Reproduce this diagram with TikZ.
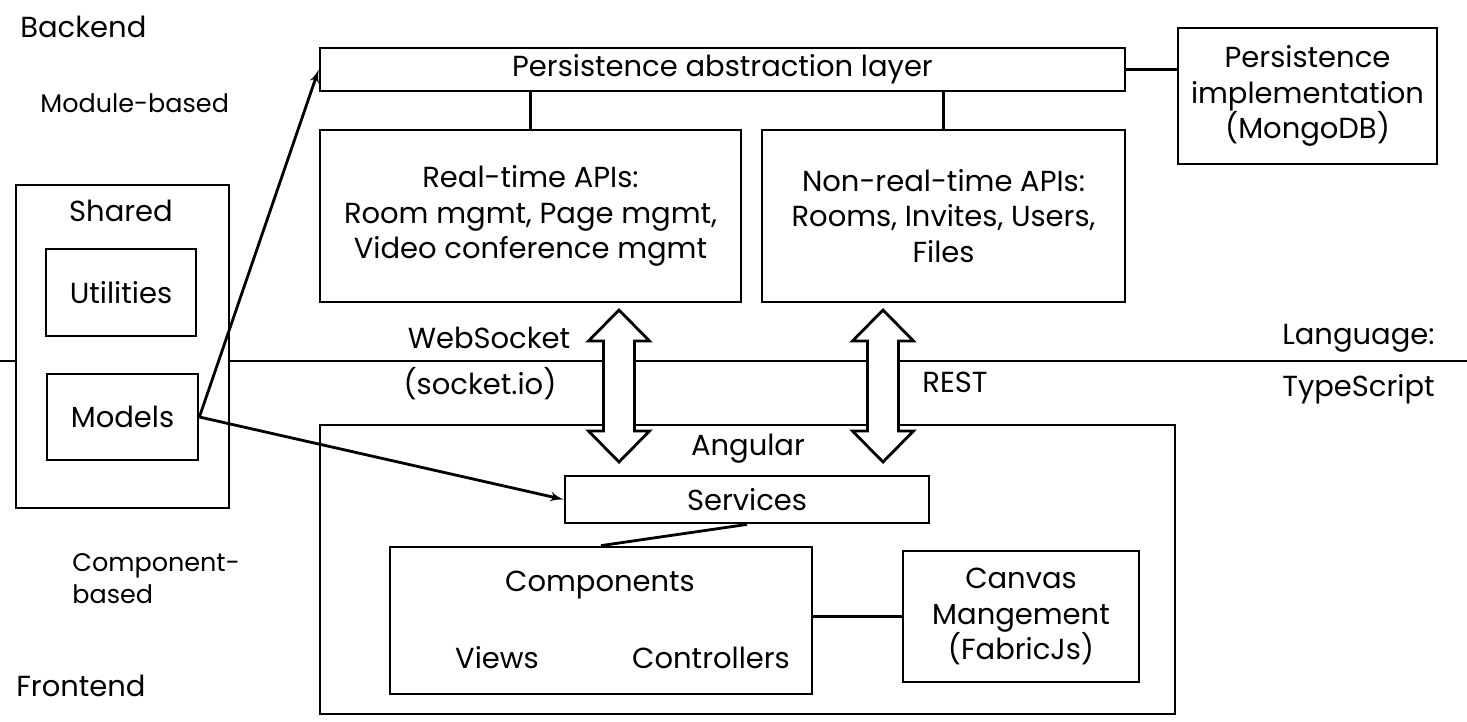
\documentclass[tikz,border=0pt]{standalone}
\usepackage{fontspec}
\setmainfont{Poppins}
\usepackage{tikz}
\usetikzlibrary{arrows}
\usetikzlibrary{positioning}
\newcommand{\mainsize}{\fontsize{16.5}{20.4}\selectfont}
\newcommand{\smallsize}{\fontsize{14.5}{18.5}\selectfont}

\begin{document}
\begin{tikzpicture}[x=0.02cm, y=-0.02cm,
    box/.style={draw, line width=1.6pt, fill=white, inner sep=0pt, align=center, font=\mainsize},
    lbl/.style={inner sep=0pt, align=center, font=\mainsize},
    small/.style={inner sep=0pt, align=left, font=\smallsize},
    link/.style={line width=1.6pt},
    flow/.style={line width=1.6pt, -latex'}]
\useasboundingbox (0, 0) rectangle (1467, 721);

\draw [link] (0, 361) -- (1467, 361);

\node [lbl, anchor=west] (backend) at (20, 27) {Backend};
\node [small, anchor=west] (modbased) at (40, 103) {Module-based};
\node [small, anchor=north west] (compbased) at (72, 553) {Component-\\based};
\node [lbl, anchor=west] (frontend) at (16, 686) {Frontend};

\node [box, minimum width=16.1cm, minimum height=0.86cm] (pal) at (722.5, 69.5) {Persistence abstraction layer};
\node [box, minimum width=5.18cm, minimum height=2.72cm] (pim) at (1307.5, 96) {Persistence\\implementation\\(MongoDB)};
\node [box, minimum width=8.42cm, minimum height=3.44cm] (rta) at (530.5, 216) {Real-time APIs:\\Room mgmt, Page mgmt,\\Video conference mgmt};
\node [box, minimum width=7.26cm, minimum height=3.44cm] (nrt) at (943.5, 216) {Non-real-time APIs:\\Rooms, Invites, Users,\\Files};

\draw [link] (rta.north) -- (rta.north |- pal.south);
\draw [link] (nrt.north) -- (nrt.north |- pal.south);
\draw [link] (pal.east) -- (pal.east -| pim.west);

\node [box, minimum width=4.26cm, minimum height=6.46cm] (shared) at (122.5, 346.5) {};
\node [lbl] (sharedlbl) at (121, 211) {Shared};
\node [box, minimum width=3.0cm, minimum height=1.74cm] (util) at (121, 292.5) {Utilities};
\node [box, minimum width=3.02cm, minimum height=1.72cm] (models) at (122.5, 417) {Models};

\node [box, minimum width=17.1cm, minimum height=5.78cm] (angular) at (747.5, 569.5) {};
\node [lbl] (angularlbl) at (748, 449) {Angular};
\node [box, minimum width=7.28cm, minimum height=0.94cm] (services) at (747, 499.5) {Services};
\node [box, minimum width=8.44cm, minimum height=2.94cm] (comp) at (601, 620.5) {};
\node [lbl] (complbl) at (600, 585) {Components};
\node [lbl] (views) at (497, 658) {Views};
\node [lbl] (ctrl) at (711, 658) {Controllers};
\node [box, minimum width=4.72cm, minimum height=2.62cm] (canvas) at (1021, 616.5) {Canvas\\Mangement\\(FabricJs)};

\draw [link] (services.south) -- (comp.north);
\draw [link] (canvas.west -| comp.east) -- (canvas.west);

\draw [flow] (models.east) -- (pal.west);
\draw [flow] (models.east) -- (services.west);

\foreach \cx in {619, 883}
    \draw [link, fill=white, line join=miter]
        (\cx, 310) -- ({\cx+30.5}, 341) -- ({\cx+15.5}, 341) -- ({\cx+15.5}, 431)
        -- ({\cx+30.5}, 431) -- (\cx, 462) -- ({\cx-30.5}, 431) -- ({\cx-15.5}, 431)
        -- ({\cx-15.5}, 341) -- ({\cx-30.5}, 341) -- cycle;

\node [lbl] (websock) at (489, 338) {WebSocket};
\node [lbl] (socketio) at (480, 384) {(socket.io)};
\node [lbl] (rest) at (955, 382) {REST};
\node [lbl, anchor=west] (lang) at (1282, 338) {Language:};
\node [lbl, anchor=west] (ts) at (1282, 389) {TypeScript};
\end{tikzpicture}
\end{document}
